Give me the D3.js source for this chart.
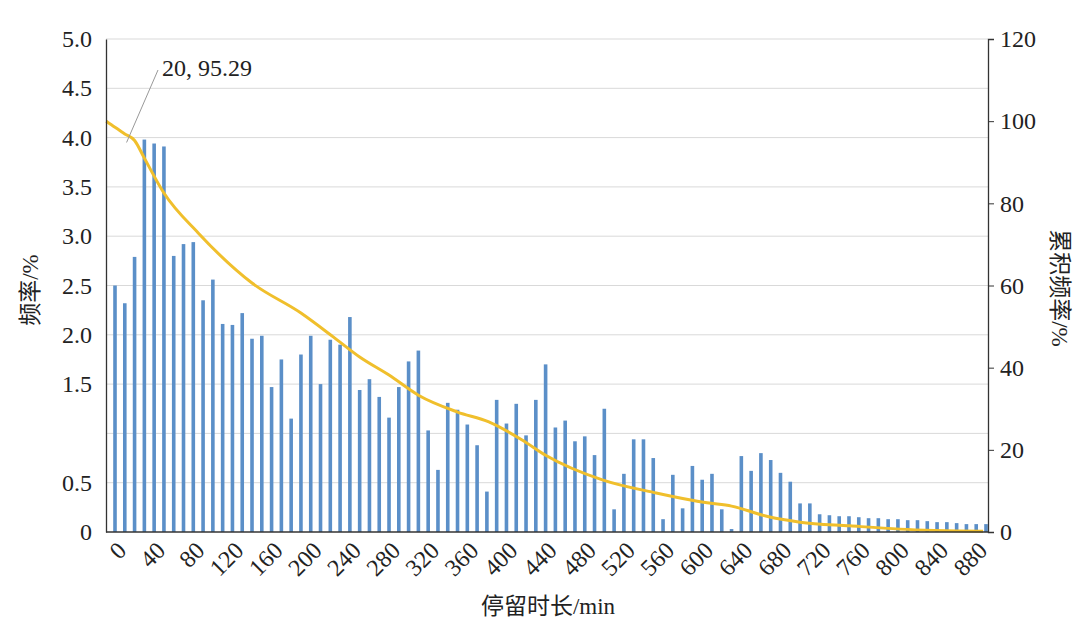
<!DOCTYPE html>
<html><head><meta charset="utf-8">
<script src="https://cdn.jsdelivr.net/npm/d3@7"></script>
<style>body{margin:0;background:#fff}text{font-family:"Liberation Serif","Noto Sans CJK SC",serif;fill:#222}</style>
</head><body><div id="chart"></div>
<script>
'use strict';

// bar values (frequency %), one per 10-min bin 0..890
var minutes = d3.range(0, 900, 10);
var freq = [2.50,2.32,2.79,3.98,3.94,3.91,2.80,2.92,2.94,2.35,
  2.56,2.11,2.10,2.22,1.96,1.99,1.47,1.75,1.15,1.80,
  1.99,1.50,1.95,1.90,2.18,1.44,1.55,1.37,1.16,1.47,
  1.73,1.84,1.03,0.63,1.31,1.24,1.09,0.88,0.41,1.34,
  1.10,1.30,0.98,1.34,1.70,1.06,1.13,0.92,0.97,0.78,
  1.25,0.23,0.59,0.94,0.94,0.75,0.13,0.58,0.24,0.67,
  0.53,0.59,0.23,0.03,0.77,0.62,0.80,0.73,0.60,0.51,
  0.29,0.29,0.18,0.17,0.16,0.16,0.15,0.14,0.14,0.13,
  0.13,0.12,0.12,0.11,0.10,0.10,0.09,0.08,0.08,0.08];
// cumulative frequency line
var cumMin = [-9,0,10,20,30,50,85,140,190,223,250,280,310,350,382,416,440,498,553,605,630,668,700,751,802,887];
var cumVal = [100,98.5,96.9,95.3,91,82.5,72.8,60.6,53.3,47.5,42.6,38.2,33.3,29.2,26.8,22.4,18.7,12.7,9.5,7.1,6.3,3.7,2.4,1.5,0.7,0.2];
var leftTicks = [5.0,4.5,4.0,3.5,3.0,2.5,2.0,1.5,0.5,0];
var rightTicks = [0,20,40,60,80,100,120];
var xTicks = d3.range(0, 881, 40);

var W = 1080, H = 632;
var L = 106, R = 988, T = 39, B = 532;

var svg = d3.select('#chart').append('svg').attr('width', W).attr('height', H);

var x = d3.scaleLinear().domain([0, 890]).range([115, 986]);
var y = d3.scaleLinear().domain([0, 5]).range([B, T]);
var y2 = d3.scaleLinear().domain([0, 120]).range([B, T]);

// gridlines
svg.append('g').selectAll('line').data(d3.range(0.5, 5.01, 0.5)).join('line')
  .attr('x1', L).attr('x2', R)
  .attr('y1', function(d) { return y(d); }).attr('y2', function(d) { return y(d); })
  .attr('stroke', '#d9d9d9').attr('stroke-width', 1);

// bars
svg.append('g').selectAll('rect').data(minutes).join('rect')
  .attr('x', function(d) { return x(d) - 1.8; })
  .attr('width', 3.6)
  .attr('y', function(d, i) { return y(freq[i]); })
  .attr('height', function(d, i) { return B - y(freq[i]); })
  .attr('fill', '#5b8fc8');

// cumulative line
var line = d3.line()
  .x(function(d) { return x(d); })
  .y(function(d, i) { return y2(cumVal[i]); })
  .curve(d3.curveMonotoneX);
svg.append('path').datum(cumMin).attr('d', line)
  .attr('fill', 'none').attr('stroke', '#f0bf2c').attr('stroke-width', 3);

// axes
var yAxis = d3.axisLeft(y).tickValues(leftTicks).tickSize(0).tickPadding(14)
  .tickFormat(function(d) { return d === 0 ? '0' : d3.format('.1f')(d); });
var gl = svg.append('g').attr('transform', 'translate(' + L + ',0)').call(yAxis);
var yAxis2 = d3.axisRight(y2).tickValues(rightTicks).tickSize(6).tickPadding(6);
var gr = svg.append('g').attr('transform', 'translate(' + R + ',0)').call(yAxis2);
var xAxis = d3.axisBottom(x).tickValues(xTicks).tickSize(0).tickFormat(d3.format('d'));
var gx = svg.append('g').attr('transform', 'translate(0,' + B + ')').call(xAxis);
gx.select('.domain').attr('d', 'M' + L + ',0H' + R);
gx.selectAll('text').attr('text-anchor', 'end').attr('dy', 0)
  .attr('transform', 'translate(10,18) rotate(-45)');
[gl, gr, gx].forEach(function(g) {
  g.selectAll('text').style('font-size', '24px').attr('fill', '#222');
  g.select('.domain').attr('stroke', '#333').attr('stroke-width', 1.3);
  g.selectAll('.tick line').attr('stroke', '#333');
});

// annotation
svg.append('line').attr('x1', x(20) - 8).attr('y1', y2(95.3) + 2).attr('x2', 158).attr('y2', 70)
  .attr('stroke', '#999').attr('stroke-width', 1);
svg.append('text').attr('x', 162).attr('y', 76).style('font-size', '24px').text('20, 95.29');

// titles
svg.append('text').attr('x', 548).attr('y', 614).attr('text-anchor', 'middle')
  .style('font-size', '23px').text('停留时长/min');
svg.append('text').attr('transform', 'translate(38,290) rotate(-90)').attr('text-anchor', 'middle')
  .style('font-size', '23px').text('频率/%');
svg.append('text').attr('transform', 'translate(1052,288) rotate(90)').attr('text-anchor', 'middle')
  .style('font-size', '23px').text('累积频率/%');
</script></body></html>
